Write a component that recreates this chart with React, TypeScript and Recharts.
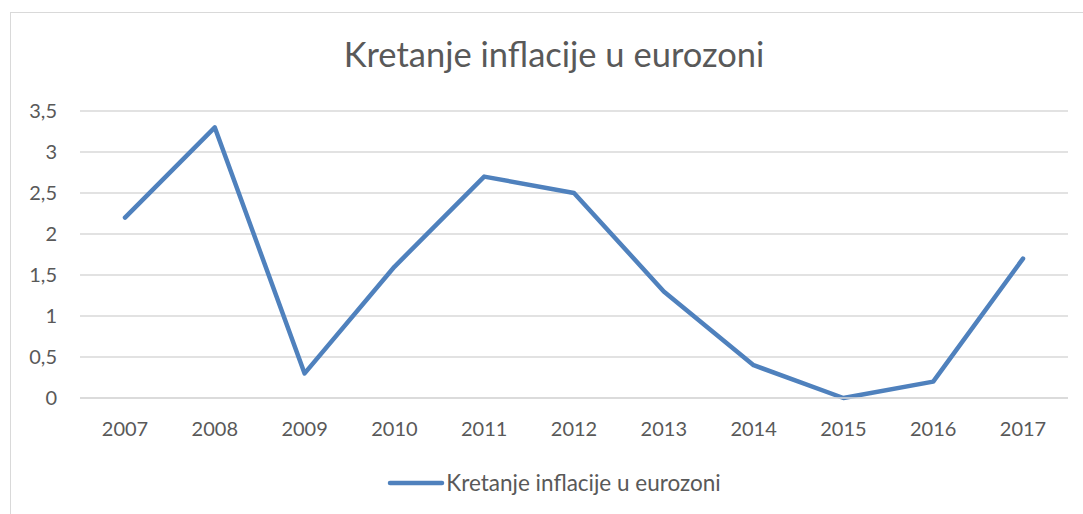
import React from "react";
import {
  LineChart,
  Line,
  XAxis,
  YAxis,
  CartesianGrid,
  Legend,
} from "recharts";

const years = ["2007", "2008", "2009", "2010", "2011", "2012", "2013", "2014", "2015", "2016", "2017"];
const inflation = [2.2, 3.3, 0.3, 1.6, 2.7, 2.5, 1.3, 0.4, 0.0, 0.2, 1.7];
const yTicks = [0, 0.5, 1, 1.5, 2, 2.5, 3, 3.5];

const seriesName = "Kretanje inflacije u eurozoni";
const title = "Kretanje inflacije u eurozoni";

const data = years.map((y, i) => ({ year: y, value: inflation[i] }));

const FONT = "Lato, 'Open Sans', sans-serif";
const TEXT = "#595959";

const fmt = (v: number) => String(v).replace(".", ",");

const LegendContent = (props: any) => {
  const items = props.payload || [];
  return (
    <div style={{ display: "flex", justifyContent: "center" }}>
      {items.map((it: any) => (
        <div key={it.value} style={{ display: "flex", alignItems: "center" }}>
          <svg width={59} height={10}>
            <line x1={3} y1={5} x2={55} y2={5} stroke={it.color} strokeWidth={4.5} strokeLinecap="round" />
          </svg>
          <span style={{ fontFamily: FONT, fontSize: 22.5, color: TEXT, lineHeight: "26px" }}>{it.value}</span>
        </div>
      ))}
    </div>
  );
};

export default function App() {
  return (
    <div style={{ position: "absolute", left: 0, top: 0, width: 1083, height: 514, overflow: "hidden", background: "#fff" }}>
      <style>{"body{margin:0}"}</style>
      <div
        style={{
          position: "absolute",
          left: 10,
          top: 12,
          width: 1120,
          height: 540,
          border: "1px solid #d9d9d9",
        }}
      />
      <div
        style={{
          position: "absolute",
          left: 10,
          width: 1088,
          top: 34,
          textAlign: "center",
          fontFamily: FONT,
          fontSize: 34.5,
          color: TEXT,
          lineHeight: "40px",
        }}
      >
        {title}
      </div>
      <div style={{ position: "absolute", left: 0, top: 0 }}>
        <LineChart width={1083} height={514} data={data} margin={{ top: 111, right: 15, bottom: 76, left: 20 }}>
          <CartesianGrid vertical={false} stroke="#d9d9d9" strokeWidth={1.3} />
          <XAxis
            dataKey="year"
            padding={{ left: 45, right: 45 }}
            axisLine={{ stroke: "#d9d9d9", strokeWidth: 1.3 }}
            tickLine={false}
            tickMargin={18}
            height={40}
            interval={0}
            tick={{ fontFamily: FONT, fontSize: 20, fill: TEXT }}
          />
          <YAxis
            domain={[0, 3.5]}
            ticks={yTicks}
            tickFormatter={fmt}
            axisLine={false}
            tickLine={false}
            tickMargin={17}
            width={60}
            tick={{ fontFamily: FONT, fontSize: 20, fill: TEXT }}
          />
          <Legend
            verticalAlign="middle"
            content={<LegendContent />}
            wrapperStyle={{ top: 470, left: 10, width: 1088 }}
          />
          <Line
            name={seriesName}
            dataKey="value"
            stroke="#4f81bd"
            strokeWidth={4.5}
            strokeLinecap="round"
            strokeLinejoin="round"
            dot={false}
            activeDot={false}
            isAnimationActive={false}
          />
        </LineChart>
      </div>
    </div>
  );
}
